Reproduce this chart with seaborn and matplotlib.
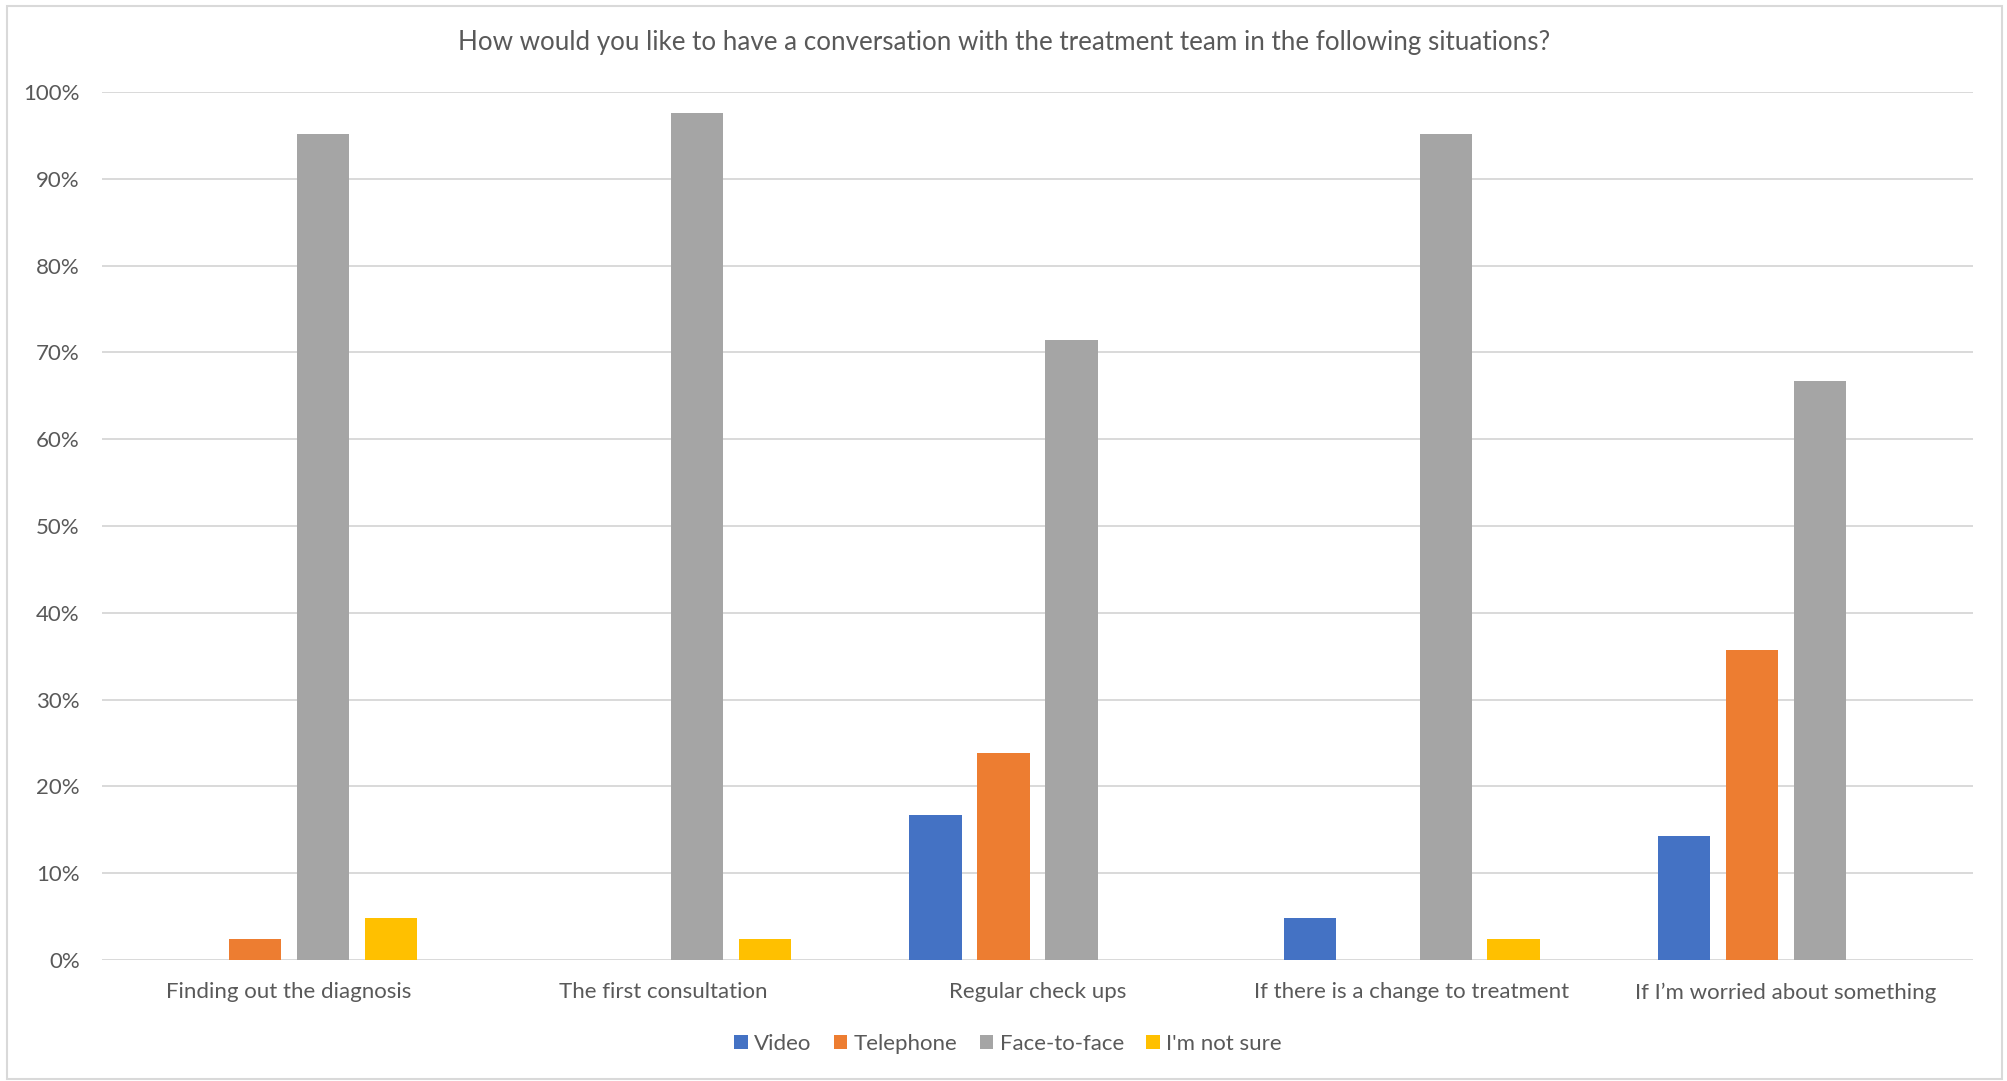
import matplotlib
matplotlib.use("Agg")
import matplotlib.pyplot as plt
from matplotlib.patches import Patch
from matplotlib.ticker import PercentFormatter
import seaborn as sns
import pandas as pd

situations = [
    "Finding out the diagnosis",
    "The first consultation",
    "Regular check ups",
    "If there is a change to treatment",
    "If I\u2019m worried about something",
]
modes = ["Video", "Telephone", "Face-to-face", "I'm not sure"]

video = [0.0, 0.0, 16.7, 4.8, 14.3]
telephone = [2.4, 0.0, 23.8, 0.0, 35.7]
face_to_face = [95.2, 97.6, 71.4, 95.2, 66.7]
not_sure = [4.8, 2.4, 0.0, 2.4, 0.0]

colors = ["#4472C4", "#ED7D31", "#A5A5A5", "#FFC000"]
text_color = "#595959"
grid_color = "#D9D9D9"

rows = []
for mode, vals in zip(modes, [video, telephone, face_to_face, not_sure]):
    for sit, v in zip(situations, vals):
        rows.append({"situation": sit, "mode": mode, "share": v})
df = pd.DataFrame(rows)

sns.set_theme(style="white")
plt.rcParams["font.family"] = ["Lato", "DejaVu Sans"]

fig = plt.figure(figsize=(20.08, 10.81), dpi=100)
ax = fig.add_axes([0.0508, 0.1119, 0.9318, 0.8030])

sns.barplot(data=df, x="situation", y="share", hue="mode", order=situations,
            hue_order=modes, palette=colors, width=0.726, gap=0.229,
            saturation=1, edgecolor="none", linewidth=0, ax=ax, errorbar=None)

ax.set_ylim(0, 100)
ax.set_xlim(-0.5, len(situations) - 0.5)
ax.set_yticks(range(0, 101, 10))
ax.yaxis.set_major_formatter(PercentFormatter(decimals=0))
ax.grid(axis="y", color=grid_color, linewidth=1.4)
ax.set_axisbelow(True)
for s in ax.spines.values():
    s.set_visible(False)
ax.set_xlabel("")
ax.set_ylabel("")
ax.tick_params(axis="both", length=0, labelsize=16, colors=text_color)
ax.tick_params(axis="y", pad=16)
ax.tick_params(axis="x", pad=16)

fig.text(0.5, 0.961,
         "How would you like to have a conversation with the treatment team in the following situations?",
         ha="center", va="center", fontsize=18.7, color=text_color)

ax.legend_.remove()
handles = [Patch(facecolor=c, edgecolor="none") for c in colors]
fig.legend(handles, modes, loc="center", bbox_to_anchor=(0.502, 0.034), ncol=4,
           frameon=False, fontsize=16, labelcolor=text_color,
           handlelength=0.6, handleheight=0.6, handletextpad=0.3,
           columnspacing=1.0)

# chart-area border
fig.add_artist(plt.Rectangle((0.0035, 0.002), 0.9935, 0.992, transform=fig.transFigure,
                             fill=False, edgecolor=grid_color, linewidth=1.5))

fig.savefig("out.png", dpi=100, facecolor="white")
